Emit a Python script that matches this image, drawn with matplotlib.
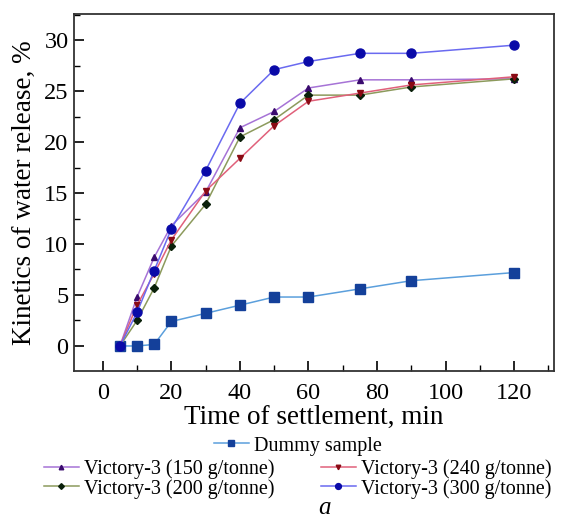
import matplotlib
matplotlib.use('Agg')
import matplotlib.pyplot as plt
from matplotlib.ticker import MultipleLocator

plt.rcParams['font.family'] = ['Liberation Serif', 'DejaVu Serif']

# время отстаивания, мин
time_min = [5, 10, 15, 20, 30, 40, 50, 60, 75, 90, 120]
dummy = [0, 0, 0.15, 2.4, 3.2, 4.0, 4.8, 4.8, 5.6, 6.4, 7.2]
v150 = [0, 4.8, 8.7, 11.8, 15.1, 21.4, 23.0, 25.3, 26.1, 26.1, 26.2]
v200 = [0, 2.5, 5.7, 9.8, 13.9, 20.5, 22.2, 24.6, 24.6, 25.4, 26.2]
v240 = [0, 4.0, 7.1, 10.4, 15.2, 18.4, 21.6, 24.0, 24.8, 25.6, 26.4]
v300 = [0, 3.3, 7.4, 11.5, 17.2, 23.8, 27.1, 27.9, 28.7, 28.7, 29.5]
labels = ['Dummy sample', 'Victory-3 (150 g/tonne)', 'Victory-3 (200 g/tonne)',
          'Victory-3 (240 g/tonne)', 'Victory-3 (300 g/tonne)']

fig = plt.figure(figsize=(5.67, 5.21), dpi=100)
ax = fig.add_axes([0.1305, 0.288, 0.8465, 0.685])

l0, = ax.plot(time_min, dummy, color='#5b9fdc', lw=1.1, marker='s', ms=6.5,
              mfc='#14409a', mec='#14409a', label=labels[0])
l1, = ax.plot(time_min, v150, color='#a673d6', lw=1.1, marker='^', ms=5,
              mfc='#3a0a6e', mec='#3a0a6e', label=labels[1])
l2, = ax.plot(time_min, v200, color='#8c9a5c', lw=1.1, marker='D', ms=4.5,
              mfc='#0a200a', mec='#0a200a', label=labels[2])
l3, = ax.plot(time_min, v240, color='#e0607a', lw=1.1, marker='v', ms=5,
              mfc='#8a0a14', mec='#8a0a14', label=labels[3])
l4, = ax.plot(time_min, v300, color='#6a6af0', lw=1.1, marker='o', ms=6.5,
              mfc='#0a0aa8', mec='#0a0aa8', label=labels[4])

ax.set_xlim(-8.4, 131.6)
ax.set_ylim(-2.45, 32.55)
ax.xaxis.set_major_locator(MultipleLocator(20))
ax.xaxis.set_minor_locator(MultipleLocator(10))
ax.yaxis.set_major_locator(MultipleLocator(5))
ax.yaxis.set_minor_locator(MultipleLocator(2.5))
ax.tick_params(which='both', direction='in', top=False, right=False, labelsize=17.5)
ax.tick_params(axis='x', pad=9)
ax.tick_params(axis='y', pad=4)
ax.tick_params(which='major', length=7, width=1.2)
ax.tick_params(which='minor', length=4, width=1.0)
for s in ax.spines.values():
    s.set_linewidth(1.3)
    s.set_color('#333333')

ax.set_xlabel('Time of settlement, min', fontsize=19.5, labelpad=0)
ax.set_ylabel('Kinetics of water release, %', fontsize=19.5, labelpad=5)

fig.legend(handles=[l0], loc='center', bbox_to_anchor=(0.525, 0.144),
           frameon=False, fontsize=14.5, handlelength=1.75, handletextpad=0.25,
           markerscale=0.65, borderaxespad=0, borderpad=0)
fig.legend(handles=[l1, l2, l3, l4], loc='center', bbox_to_anchor=(0.525, 0.081),
           ncol=2, frameon=False, fontsize=14.5, handlelength=1.75, handletextpad=0.25,
           markerscale=0.65, columnspacing=2.3, labelspacing=0.0,
           borderaxespad=0, borderpad=0)

fig.text(0.573, 0.024, 'a', fontsize=18, style='italic', ha='center', va='center')

fig.savefig('out.png', dpi=100)
